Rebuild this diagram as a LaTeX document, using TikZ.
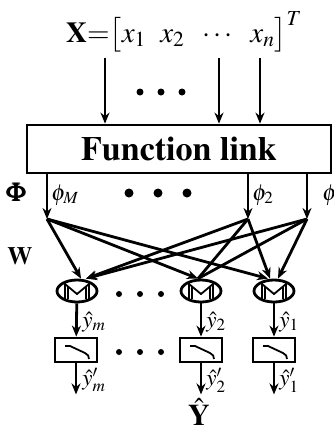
\documentclass[tikz,border=0pt]{standalone}
\usepackage{amsmath}
\usepackage[T1]{fontenc}
\usepackage{mathptmx}
\usepackage{bm}
\usetikzlibrary{arrows.meta,shapes.geometric}

\begin{document}
\begin{tikzpicture}[x=1pt, y=-1pt, line width=2.8pt, >={Stealth[length=11pt,width=9pt]},
	sumnode/.style={draw, ellipse, minimum width=40pt, minimum height=22pt, inner sep=0pt},
	actbox/.style={draw, rectangle, minimum width=42pt, minimum height=24pt, inner sep=0pt},
	lab/.style={anchor=west, inner sep=1pt, font=\fontsize{23}{23}\selectfont}]
							\useasboundingbox (0,0) rectangle (333,432);
							\node[font=\fontsize{29}{29}\selectfont] (vecX) at (184,32) {$\mathbf{X}{=}\big[x_1\hspace{0.5em} x_2\hspace{0.5em} \cdots\hspace{0.5em} x_n\big]^T$};
							\node[draw, minimum width=304pt, minimum height=48pt, font=\fontsize{34}{34}\selectfont\bfseries] (fl) at (179,149) {Function link};
							\coordinate (in1) at (105,58);
							\coordinate (in2) at (219,58);
							\coordinate (in3) at (260,58);
							\foreach \c in {in1,in2,in3}
								\draw[->] (\c) -- (\c |- fl.north);
							\foreach \x in {140,161,182}
								\fill (\x,92) circle (3.5pt);
							\coordinate (phiM) at (47,219);
							\coordinate (phi2) at (248,219);
							\coordinate (phi1) at (307,219);
							\foreach \c in {phiM,phi2,phi1}
								\draw[->] (\c |- fl.south) -- (\c);
							\foreach \x in {129,158,187}
								\fill (\x,193) circle (4.5pt);
							\node[font=\fontsize{26}{26}\selectfont] (Phi) at (16,192) {$\bm{\Phi}$};
							\node[lab] (lphiM) at (49,195) {$\phi_M$};
							\node[lab] (lphi2) at (250,195) {$\phi_2$};
							\node[lab] (lphi1) at (320,195) {$\phi_1$};
							\node[font=\fontsize{25}{25}\selectfont] (W) at (20,256) {$\mathbf{W}$};
							\node[sumnode] (sm) at (77,291) {};
							\node[sumnode] (s2) at (201,291) {};
							\node[sumnode] (s1) at (274,291) {};
							\draw[->] (phiM) -- ([xshift=4pt]sm.north);
							\draw[->] (phiM) -- ([xshift=-3pt]s2.north);
							\draw[->] (phiM) -- ([xshift=-6pt]s1.north);
							\draw[->] (phi2) -- ([xshift=9pt]sm.north);
							\draw (phi2) -- ([xshift=-3pt]s2.north);
							\draw[->] (phi2) -- ([xshift=-4pt]s1.north);
							\draw[->] (phi1) -- ([xshift=9pt]sm.north);
							\draw (phi1) -- ([xshift=-3pt]s2.north);
							\draw[->] (phi1) -- ([xshift=4pt]s1.north);
							\foreach \x in {119,140,161}
								\fill (\x,294) circle (3pt);
							\node[actbox] (am) at (76,350) {};
							\node[actbox] (a2) at (201,350) {};
							\node[actbox] (a1) at (274,350) {};
							\foreach \x in {119,140,161}
								\fill (\x,352) circle (3pt);
							\foreach \s/\a in {sm/am,s2/a2,s1/a1}{
								\draw[line width=1.8pt] ([shift={(-12,8)}]\s.center) -- ([shift={(-12,-7)}]\s.center) -- ([shift={(0,3)}]\s.center) -- ([shift={(12,-7)}]\s.center) -- ([shift={(12,8)}]\s.center);
								\draw[line width=1.4pt] ([shift={(-9,8)}]\s.center) -- ([shift={(-9,-4)}]\s.center);
								\draw[line width=1.4pt] ([shift={(9,8)}]\s.center) -- ([shift={(9,-4)}]\s.center);
								\draw[->] (\s) -- (\a);
								\draw[line width=1.8pt] ([shift={(-11,-4)}]\a.center) -- ([shift={(-6,-4)}]\a.center) -- ([shift={(9,3)}]\a.center) .. controls ([shift={(12,4.5)}]\a.center) and ([shift={(13,6)}]\a.center) .. ([shift={(13,9)}]\a.center);
								\draw[->] (\a.south) -- ++(0,31);
							}
							\node[lab] (ym) at (80,322) {$\hat{y}_m$};
							\node[lab] (y2) at (204,322) {$\hat{y}_2$};
							\node[lab] (y1) at (277,322) {$\hat{y}_1$};
							\node[lab] (ypm) at (80,380) {$\hat{y}'_m$};
							\node[lab] (yp2) at (204,380) {$\hat{y}'_2$};
							\node[lab] (yp1) at (277,380) {$\hat{y}'_1$};
							\node[font=\fontsize{30}{30}\selectfont] (Yhat) at (199,412) {$\hat{\mathbf{Y}}$};
						\end{tikzpicture}
\end{document}
